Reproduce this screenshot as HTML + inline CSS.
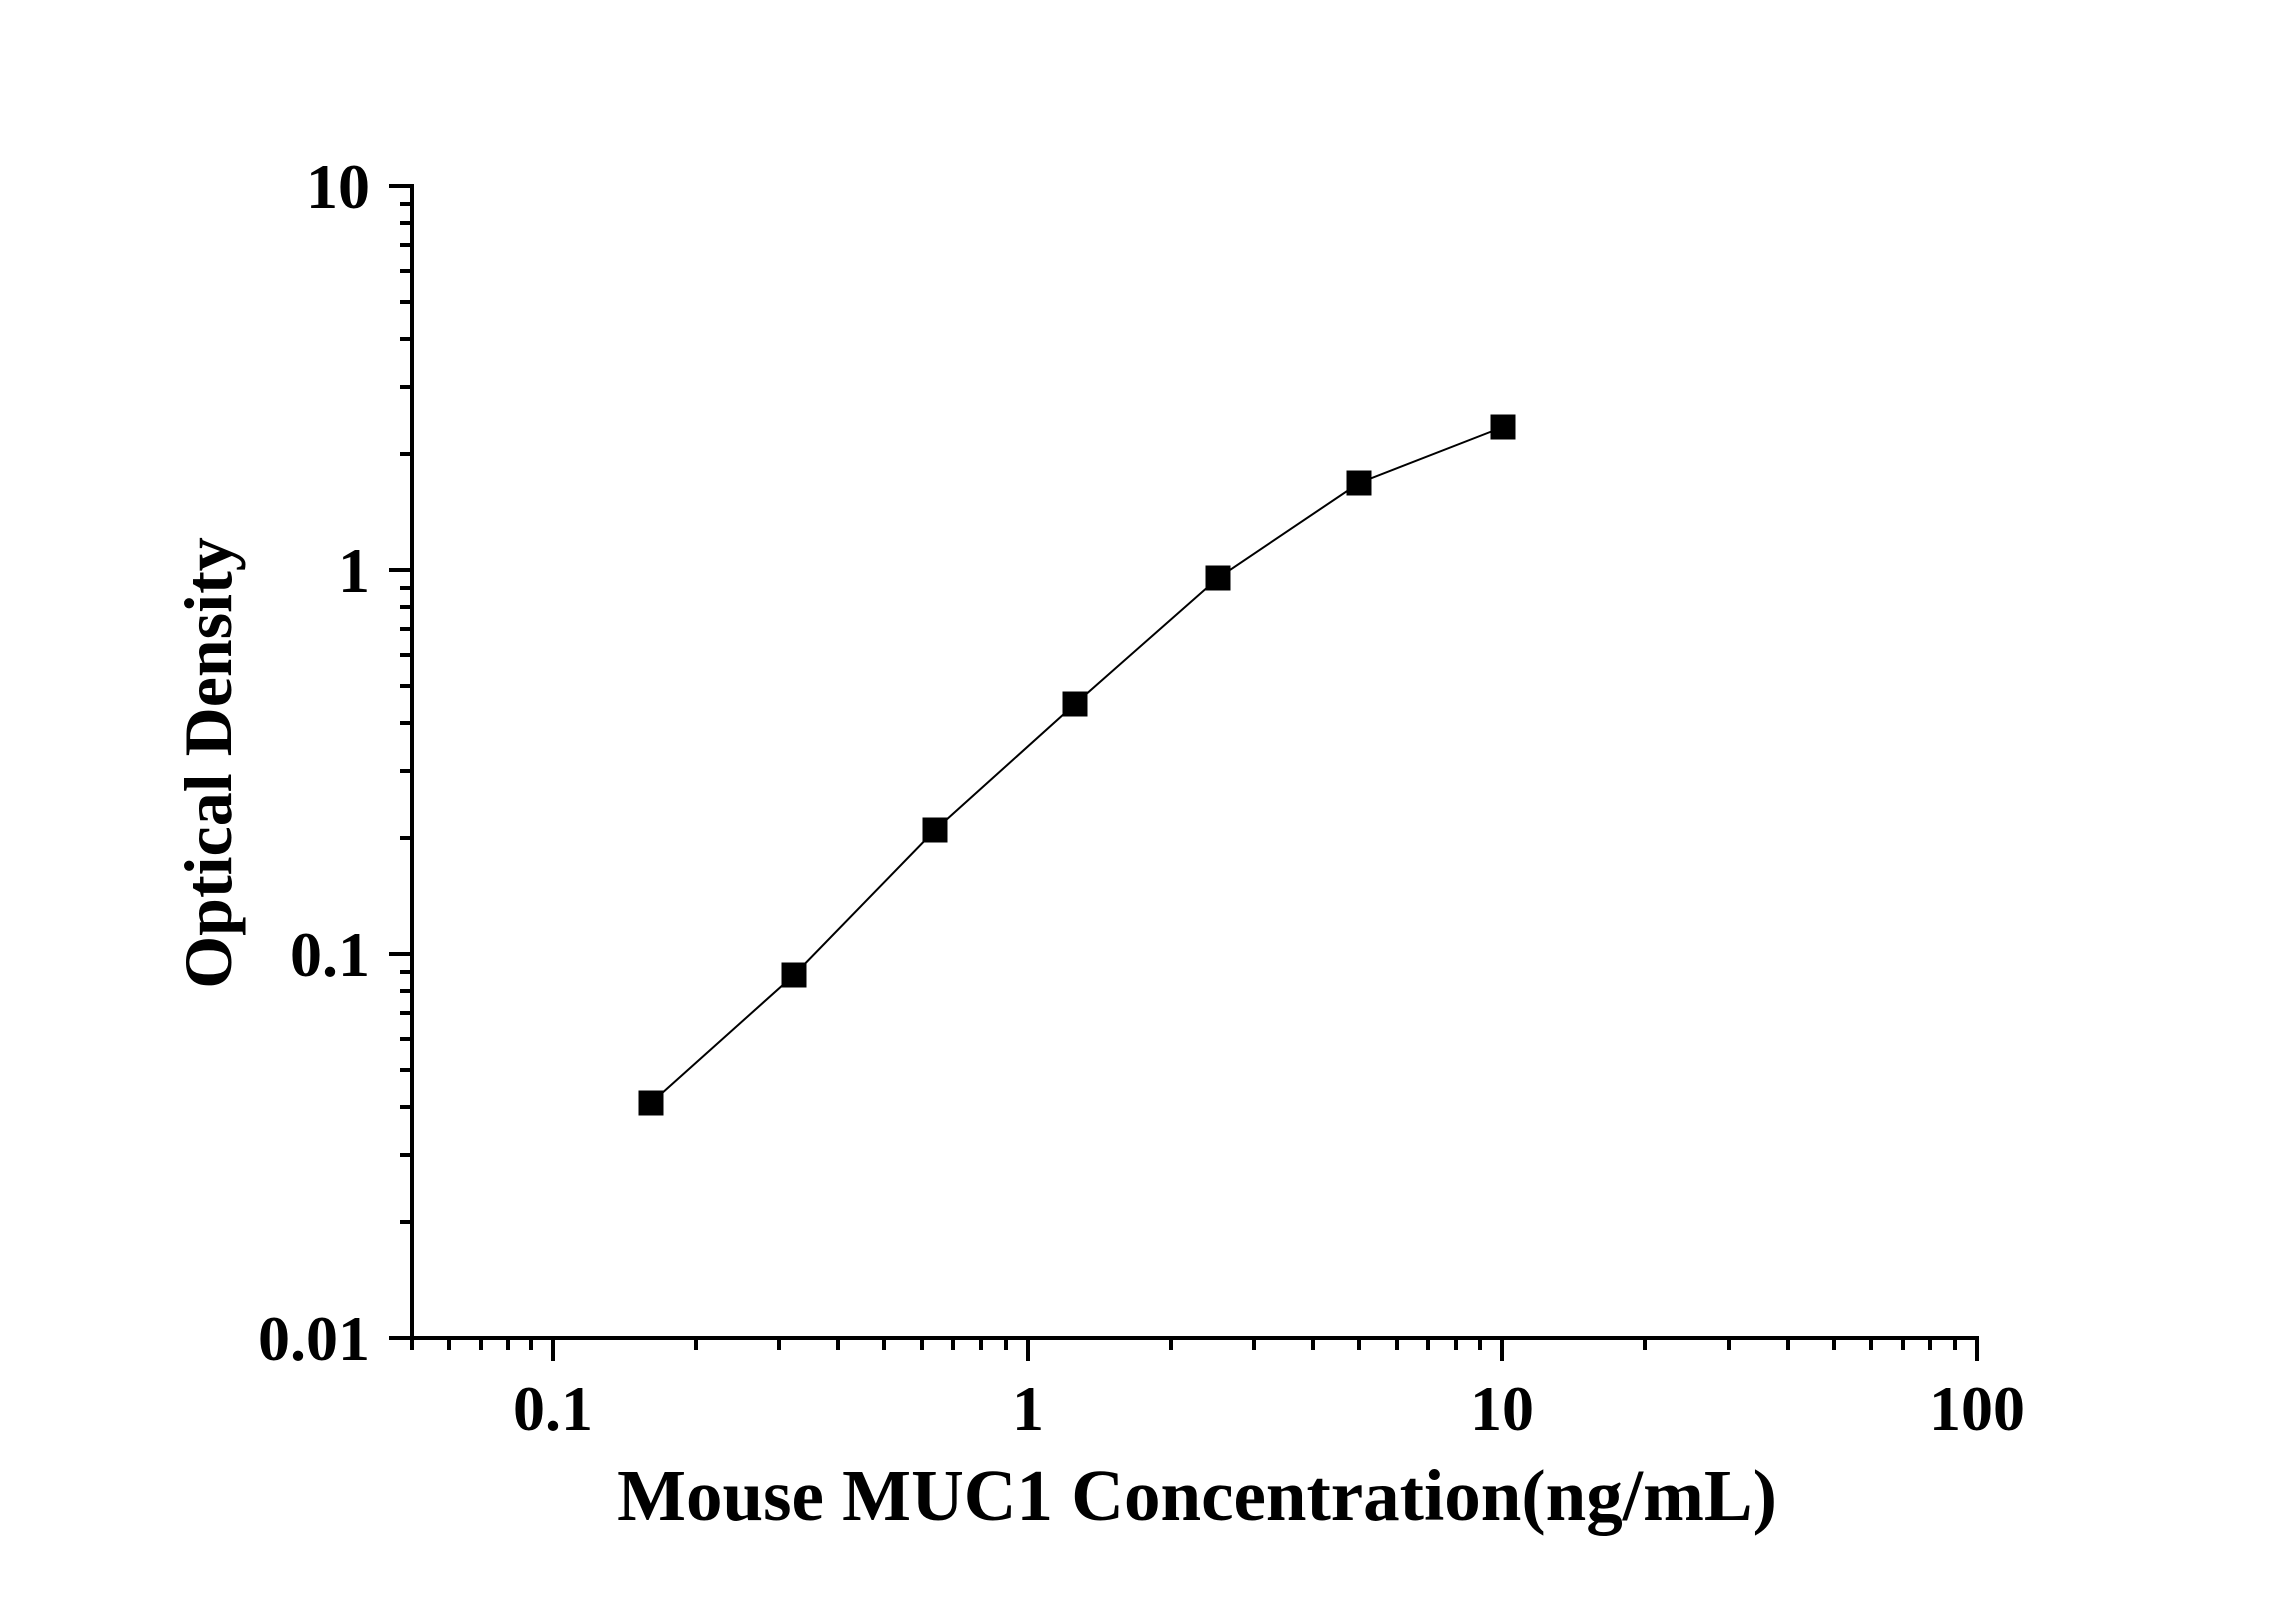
<!DOCTYPE html>
<html><head><meta charset="utf-8"><style>
html,body{margin:0;padding:0;background:#fff;}
svg{display:block;}
text{font-family:"Liberation Serif","Times New Roman",serif;font-weight:bold;fill:#000;}
</style></head><body>
<svg width="2296" height="1604" viewBox="0 0 2296 1604" xmlns="http://www.w3.org/2000/svg">
<g stroke="#000" stroke-width="4" fill="none" stroke-linecap="square">
<line x1="412" y1="186" x2="412" y2="1338"/>
<line x1="412" y1="1338" x2="1977" y2="1338"/>
</g>
<g stroke="#000" stroke-width="4" id="ticks">
<!-- y major -->
<line x1="389" y1="186" x2="412" y2="186"/>
<line x1="389" y1="570" x2="412" y2="570"/>
<line x1="389" y1="954" x2="412" y2="954"/>
<line x1="389" y1="1338" x2="412" y2="1338"/>
<!-- y minor -->
<line x1="400" y1="1222" x2="412" y2="1222"/><line x1="400" y1="1155" x2="412" y2="1155"/><line x1="400" y1="1107" x2="412" y2="1107"/><line x1="400" y1="1070" x2="412" y2="1070"/><line x1="400" y1="1039" x2="412" y2="1039"/><line x1="400" y1="1013" x2="412" y2="1013"/><line x1="400" y1="991" x2="412" y2="991"/><line x1="400" y1="972" x2="412" y2="972"/>
<line x1="400" y1="838" x2="412" y2="838"/><line x1="400" y1="771" x2="412" y2="771"/><line x1="400" y1="723" x2="412" y2="723"/><line x1="400" y1="686" x2="412" y2="686"/><line x1="400" y1="655" x2="412" y2="655"/><line x1="400" y1="629" x2="412" y2="629"/><line x1="400" y1="607" x2="412" y2="607"/><line x1="400" y1="588" x2="412" y2="588"/>
<line x1="400" y1="454" x2="412" y2="454"/><line x1="400" y1="387" x2="412" y2="387"/><line x1="400" y1="339" x2="412" y2="339"/><line x1="400" y1="302" x2="412" y2="302"/><line x1="400" y1="271" x2="412" y2="271"/><line x1="400" y1="245" x2="412" y2="245"/><line x1="400" y1="223" x2="412" y2="223"/><line x1="400" y1="204" x2="412" y2="204"/>
<!-- x major -->
<line x1="553" y1="1338" x2="553" y2="1361"/>
<line x1="1028" y1="1338" x2="1028" y2="1361"/>
<line x1="1502" y1="1338" x2="1502" y2="1361"/>
<line x1="1977" y1="1338" x2="1977" y2="1361"/>
<!-- x minor -->
<line x1="412" y1="1338" x2="412" y2="1350"/><line x1="449" y1="1338" x2="449" y2="1350"/><line x1="481" y1="1338" x2="481" y2="1350"/><line x1="508" y1="1338" x2="508" y2="1350"/><line x1="531" y1="1338" x2="531" y2="1350"/>
<line x1="696" y1="1338" x2="696" y2="1350"/><line x1="779" y1="1338" x2="779" y2="1350"/><line x1="838" y1="1338" x2="838" y2="1350"/><line x1="884" y1="1338" x2="884" y2="1350"/><line x1="922" y1="1338" x2="922" y2="1350"/><line x1="953" y1="1338" x2="953" y2="1350"/><line x1="981" y1="1338" x2="981" y2="1350"/><line x1="1006" y1="1338" x2="1006" y2="1350"/>
<line x1="1171" y1="1338" x2="1171" y2="1350"/><line x1="1254" y1="1338" x2="1254" y2="1350"/><line x1="1313" y1="1338" x2="1313" y2="1350"/><line x1="1359" y1="1338" x2="1359" y2="1350"/><line x1="1397" y1="1338" x2="1397" y2="1350"/><line x1="1428" y1="1338" x2="1428" y2="1350"/><line x1="1456" y1="1338" x2="1456" y2="1350"/><line x1="1480" y1="1338" x2="1480" y2="1350"/>
<line x1="1645" y1="1338" x2="1645" y2="1350"/><line x1="1729" y1="1338" x2="1729" y2="1350"/><line x1="1788" y1="1338" x2="1788" y2="1350"/><line x1="1834" y1="1338" x2="1834" y2="1350"/><line x1="1871" y1="1338" x2="1871" y2="1350"/><line x1="1903" y1="1338" x2="1903" y2="1350"/><line x1="1930" y1="1338" x2="1930" y2="1350"/><line x1="1955" y1="1338" x2="1955" y2="1350"/>
</g>
<g font-size="64" text-anchor="end">
<text x="370" y="208">10</text>
<text x="370" y="592">1</text>
<text x="370" y="976">0.1</text>
<text x="370" y="1360">0.01</text>
</g>
<g font-size="64" text-anchor="middle">
<text x="553" y="1430">0.1</text>
<text x="1028" y="1430">1</text>
<text x="1502" y="1430">10</text>
<text x="1977" y="1430">100</text>
</g>
<text x="1197" y="1520" font-size="73" text-anchor="middle">Mouse MUC1 Concentration(ng/mL)</text>
<text transform="translate(231,763) rotate(-90)" font-size="68" text-anchor="middle">Optical Density</text>
<polyline fill="none" stroke="#000" stroke-width="2" points="651,1103 794,975 935,830 1075,704 1218,578 1359,483 1503,427"/>
<g fill="#000">
<rect x="638.5" y="1090.5" width="25" height="25"/>
<rect x="781.5" y="962.5" width="25" height="25"/>
<rect x="922.5" y="817.5" width="25" height="25"/>
<rect x="1062.5" y="691.5" width="25" height="25"/>
<rect x="1205.5" y="565.5" width="25" height="25"/>
<rect x="1346.5" y="470.5" width="25" height="25"/>
<rect x="1490.5" y="414.5" width="25" height="25"/>
</g>
</svg>
</body></html>
